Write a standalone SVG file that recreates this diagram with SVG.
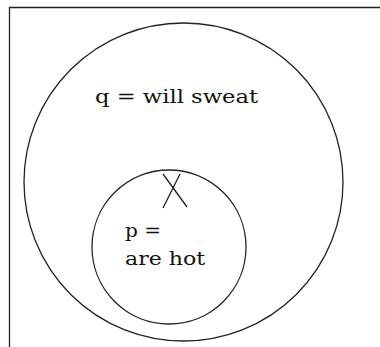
<svg xmlns="http://www.w3.org/2000/svg" width="380" height="347" viewBox="0 0 380 347">
<style>
.ln{fill:none;stroke:#222;stroke-width:1.3}
.t{font-family:"DejaVu Serif","Liberation Serif",serif;font-size:18px;fill:#111}
</style>
<rect width="380" height="347" fill="#fff"/>
<g id="frame"><path class="ln" d="M9.5,347 V7.5 H380" stroke-width="1.6"/></g>
<g id="q">
<ellipse class="ln" cx="183.5" cy="182" rx="159.5" ry="159"/>
<text class="t" x="95" y="103" textLength="163" lengthAdjust="spacingAndGlyphs">q = will sweat</text>
</g>
<g id="p">
<circle class="ln" cx="169" cy="247" r="77"/>
<text class="t" x="125" y="237" textLength="36" lengthAdjust="spacingAndGlyphs">p =</text>
<text class="t" x="125" y="265" textLength="80" lengthAdjust="spacingAndGlyphs">are hot</text>
</g>
<g id="x">
<path class="ln" d="M163,174 L187,207 M180,174 L163,208"/>
</g>
</svg>
